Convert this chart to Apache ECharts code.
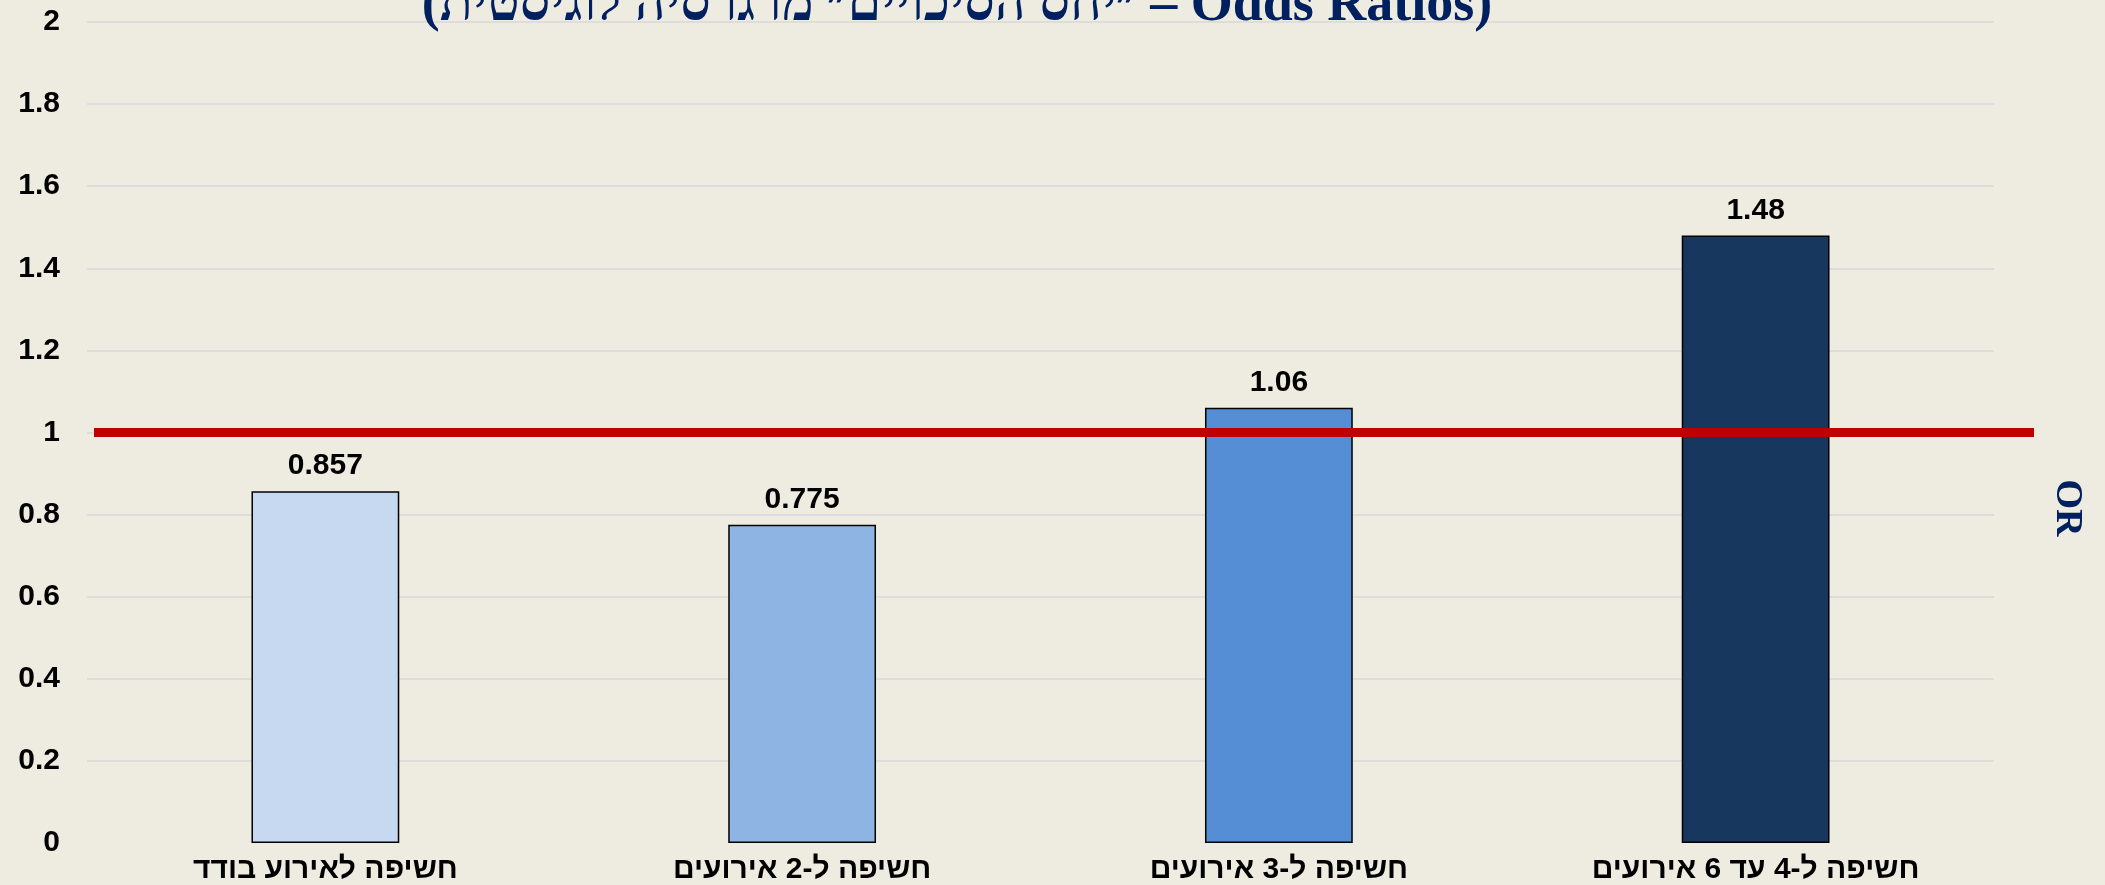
<!DOCTYPE html>
<html>
<head>
<meta charset="utf-8">
<script src="https://cdn.jsdelivr.net/npm/echarts@6/dist/echarts.min.js"></script>
<style>
  html, body { margin: 0; padding: 0; background: #EEEBE1; }
  #main { width: 2105px; height: 885px; }
</style>
</head>
<body>
<div id="main"></div>
<script>
var categories = ['חשיפה לאירוע בודד', 'חשיפה ל-2 אירועים', 'חשיפה ל-3 אירועים', 'חשיפה ל-4 עד 6 אירועים'];
var oddsRatios = [0.857, 0.775, 1.06, 1.48];
var barColors = ['#C6D9F1', '#8DB4E2', '#558ED5', '#17375E'];
var labelText = ['0.857', '0.775', '1.06', '1.48'];
var referenceValue = 1;

var chart = echarts.init(document.getElementById('main'));

var option = {
    backgroundColor: '#EEEBE1',
    animation: false,
    title: {
        text: '(״יחס הסיכויים״ מרגרסיה לוגיסטית – Odds Ratios)',
        left: 952,
        textAlign: 'center',
        top: -26,
        textStyle: {
            fontFamily: 'Liberation Serif',
            fontWeight: 'bold',
            fontSize: 54,
            color: '#002060'
        }
    },
    grid: {
        left: 87,
        right: 111,
        top: 22,
        bottom: 39
    },
    xAxis: {
        type: 'category',
        data: categories,
        axisLine: { show: false },
        axisTick: { show: false },
        axisLabel: {
            margin: 12,
            fontFamily: 'Liberation Sans',
            fontWeight: 'bold',
            fontSize: 30,
            color: '#000'
        }
    },
    yAxis: {
        type: 'value',
        min: 0,
        max: 2,
        interval: 0.2,
        axisLine: { show: false },
        axisTick: { show: false },
        axisLabel: {
            margin: 27,
            fontFamily: 'Liberation Sans',
            fontWeight: 'bold',
            fontSize: 30,
            color: '#000'
        },
        splitLine: {
            showMinLine: false,
            lineStyle: { color: '#D9D9D9', width: 1.5 }
        }
    },
    series: [{
        type: 'bar',
        barWidth: '31%',
        data: oddsRatios.map(function (v, i) {
            return {
                value: v,
                itemStyle: { color: barColors[i] },
                label: { formatter: labelText[i] }
            };
        }),
        itemStyle: {
            borderColor: '#000',
            borderWidth: 1.5
        },
        label: {
            show: true,
            position: 'top',
            distance: 10,
            fontFamily: 'Liberation Sans',
            fontWeight: 'bold',
            fontSize: 30,
            color: '#000'
        },
        markLine: {
            silent: true,
            symbol: 'none',
            label: { show: false },
            lineStyle: { color: '#C00000', width: 9, type: 'solid' },
            data: [[{ x: 94, yAxis: referenceValue }, { x: 2034, yAxis: referenceValue }]]
        }
    }],
    graphic: [{
        type: 'text',
        x: 2067,
        y: 508,
        rotation: -Math.PI / 2,
        style: {
            text: 'OR',
            fontFamily: 'Liberation Serif',
            fontWeight: 'bold',
            fontSize: 38,
            fill: '#002060',
            textAlign: 'center',
            textVerticalAlign: 'middle'
        }
    }]
};

chart.setOption(option);
</script>
</body>
</html>
